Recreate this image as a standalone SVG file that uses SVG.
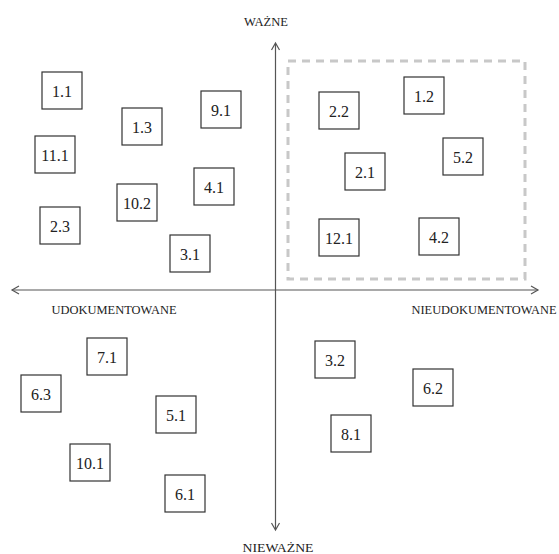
<svg xmlns="http://www.w3.org/2000/svg" width="559" height="554" viewBox="0 0 559 554">
<defs>
<style>
.box{fill:#fff;stroke:#333;stroke-width:1.2}
.lbl{font-family:'Times New Roman','Liberation Serif',Tinos,serif;font-size:16px;fill:#222;text-anchor:middle}
.ax{font-family:'Times New Roman','Liberation Serif',Tinos,serif;font-size:12.5px;fill:#222}
.axis{stroke:#555;stroke-width:1.2;fill:none}
.head{stroke:#555;stroke-width:1.2;fill:none}
</style>
</defs>
<rect width="559" height="554" fill="#fff"/>
<g id="connectors">
<rect id="region" x="288" y="61" width="237" height="218" fill="none" stroke="#c8c8c8" stroke-width="3" stroke-dasharray="8,6"/>
<line class="axis" x1="275.5" y1="44" x2="275.5" y2="529"/>
<line class="axis" x1="12" y1="290" x2="538" y2="290"/>
<path class="head" d="M271.5,50 L275.5,43 L279.5,50"/>
<path class="head" d="M271.5,523 L275.5,530 L279.5,523"/>
<path class="head" d="M19,286 L12,290 L19,294"/>
<path class="head" d="M531,286 L538,290 L531,294"/>
</g>
<g id="axis-labels">
<text class="ax" x="244" y="26" textLength="44" lengthAdjust="spacingAndGlyphs">WAŻNE</text>
<text class="ax" x="242.5" y="552" textLength="71" lengthAdjust="spacingAndGlyphs">NIEWAŻNE</text>
<text class="ax" x="51.5" y="313.5" textLength="125" lengthAdjust="spacingAndGlyphs">UDOKUMENTOWANE</text>
<text class="ax" x="411.5" y="313.5" textLength="145" lengthAdjust="spacingAndGlyphs">NIEUDOKUMENTOWANE</text>
</g>
<g id="n1-1"><rect class="box" x="42" y="72" width="40" height="37"/><text class="lbl" x="62" y="97">1.1</text></g>
<g id="n1-3"><rect class="box" x="122" y="108" width="40" height="37"/><text class="lbl" x="142" y="133">1.3</text></g>
<g id="n9-1"><rect class="box" x="201" y="91" width="40" height="37"/><text class="lbl" x="221" y="116">9.1</text></g>
<g id="n11-1"><rect class="box" x="35" y="136" width="40" height="37"/><text class="lbl" x="55" y="161">11.1</text></g>
<g id="n10-2"><rect class="box" x="117" y="184" width="40" height="37"/><text class="lbl" x="137" y="209">10.2</text></g>
<g id="n4-1"><rect class="box" x="194" y="168" width="40" height="37"/><text class="lbl" x="214" y="193">4.1</text></g>
<g id="n2-3"><rect class="box" x="40" y="207" width="40" height="37"/><text class="lbl" x="60" y="232">2.3</text></g>
<g id="n3-1"><rect class="box" x="170" y="235" width="40" height="37"/><text class="lbl" x="190" y="260">3.1</text></g>
<g id="n2-2"><rect class="box" x="319" y="92" width="40" height="37"/><text class="lbl" x="339" y="117">2.2</text></g>
<g id="n1-2"><rect class="box" x="404" y="77" width="40" height="37"/><text class="lbl" x="424" y="102">1.2</text></g>
<g id="n2-1"><rect class="box" x="345" y="153" width="40" height="37"/><text class="lbl" x="365" y="178">2.1</text></g>
<g id="n5-2"><rect class="box" x="443" y="138" width="40" height="37"/><text class="lbl" x="463" y="163">5.2</text></g>
<g id="n12-1"><rect class="box" x="319" y="219" width="40" height="37"/><text class="lbl" x="339" y="244">12.1</text></g>
<g id="n4-2"><rect class="box" x="419" y="218" width="40" height="37"/><text class="lbl" x="439" y="243">4.2</text></g>
<g id="n7-1"><rect class="box" x="87" y="338" width="40" height="37"/><text class="lbl" x="107" y="363">7.1</text></g>
<g id="n6-3"><rect class="box" x="21" y="375" width="40" height="37"/><text class="lbl" x="41" y="400">6.3</text></g>
<g id="n5-1"><rect class="box" x="156" y="396" width="40" height="37"/><text class="lbl" x="176" y="421">5.1</text></g>
<g id="n10-1"><rect class="box" x="70" y="444" width="40" height="37"/><text class="lbl" x="90" y="469">10.1</text></g>
<g id="n6-1"><rect class="box" x="165" y="475" width="40" height="37"/><text class="lbl" x="185" y="500">6.1</text></g>
<g id="n3-2"><rect class="box" x="315" y="341" width="40" height="37"/><text class="lbl" x="335" y="366">3.2</text></g>
<g id="n6-2"><rect class="box" x="413" y="369" width="40" height="37"/><text class="lbl" x="433" y="394">6.2</text></g>
<g id="n8-1"><rect class="box" x="331" y="415" width="40" height="37"/><text class="lbl" x="351" y="440">8.1</text></g>
</svg>
